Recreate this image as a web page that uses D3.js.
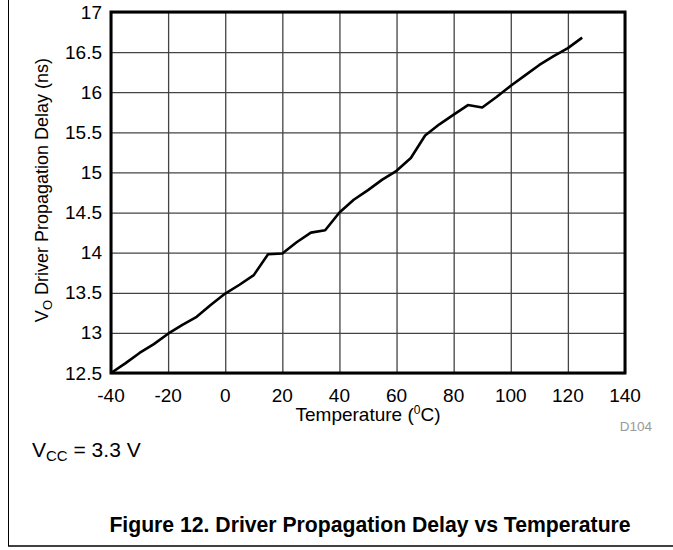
<!DOCTYPE html>
<html><head><meta charset="utf-8">
<script src="https://cdn.jsdelivr.net/npm/d3@7"></script>
<style>body{margin:0;background:#fff}svg{display:block;font-family:"Liberation Sans",Arial,sans-serif}</style>
</head><body>
<script>
const temps = [-40,-35,-30,-25,-20,-15,-10,-5,0,5,10,15,20,25,30,35,40,45,50,55,60,65,70,75,80,85,90,95,100,105,110,115,120,125];
const delays = [12.5,12.62,12.75,12.86,12.99,13.1,13.2,13.35,13.49,13.6,13.72,13.98,13.99,14.13,14.25,14.28,14.5,14.66,14.78,14.91,15.02,15.18,15.46,15.6,15.72,15.84,15.81,15.94,16.08,16.21,16.34,16.45,16.55,16.68];
const xTicks = [-40,-20,0,20,40,60,80,100,120,140];
const yTicks = [12.5,13,13.5,14,14.5,15,15.5,16,16.5,17];

const W = 673, H = 550;
const svg = d3.select("body").append("svg").attr("width", W).attr("height", H);
const L = 111, R = 625, T = 12, B = 373;
const x = d3.scaleLinear().domain([-40,140]).range([L,R]);
const y = d3.scaleLinear().domain([12.5,17]).range([B,T]);

// outer frame
svg.append("line").attr("x1",8.5).attr("x2",8.5).attr("y1",0).attr("y2",546).attr("stroke","#000").attr("stroke-width",1);
svg.append("line").attr("x1",8).attr("x2",W).attr("y1",546).attr("y2",546).attr("stroke","#000").attr("stroke-width",1.5);

// grid
const g = svg.append("g");
g.append("g").attr("transform",`translate(0,${B})`)
  .call(d3.axisBottom(x).tickValues(xTicks).tickSize(-(B-T)).tickFormat(""))
  .call(s=>s.select(".domain").remove())
  .selectAll("line").attr("stroke","#444").attr("stroke-width",1.3);
g.append("g").attr("transform",`translate(${L},0)`)
  .call(d3.axisLeft(y).tickValues(yTicks).tickSize(-(R-L)).tickFormat(""))
  .call(s=>s.select(".domain").remove())
  .selectAll("line").attr("stroke","#444").attr("stroke-width",1.3);

// tick labels
svg.append("g").selectAll("text").data(xTicks).join("text")
  .attr("x",d=>x(d)).attr("y",402).attr("text-anchor","middle")
  .attr("font-size",19).text(d=>d);
svg.append("g").selectAll("text").data(yTicks).join("text")
  .attr("x",102).attr("y",d=>y(d)+6.5).attr("text-anchor","end")
  .attr("font-size",19).text(d=>d);

// data line
const line = d3.line().x((d,i)=>x(temps[i])).y(d=>y(d));
svg.append("path").datum(delays).attr("d",line).attr("fill","none")
  .attr("stroke","#000").attr("stroke-width",2.6).attr("stroke-linejoin","round");

// plot frame
svg.append("rect").attr("x",L).attr("y",T).attr("width",R-L).attr("height",B-T)
  .attr("fill","none").attr("stroke","#000").attr("stroke-width",3);

// axis titles
const xt = svg.append("text").attr("x",368).attr("y",421).attr("text-anchor","middle").attr("font-size",19);
xt.append("tspan").text("Temperature (");
xt.append("tspan").attr("font-size",12).attr("dy",-7).text("0");
xt.append("tspan").attr("dy",7).text("C)");

const yt = svg.append("text").attr("transform","translate(48,190) rotate(-90)").attr("text-anchor","middle").attr("font-size",18);
yt.append("tspan").text("V");
yt.append("tspan").attr("font-size",13).attr("dy",3.5).text("O");
yt.append("tspan").attr("dy",-3.5).text(" Driver Propagation Delay (ns)");

svg.append("text").attr("x",652).attr("y",431).attr("text-anchor","end").attr("font-size",13.5).attr("fill","#999").text("D104");

const vc = svg.append("text").attr("x",32).attr("y",457).attr("font-size",21);
vc.append("tspan").text("V");
vc.append("tspan").attr("font-size",15).attr("dy",4).text("CC");
vc.append("tspan").attr("dy",-4).text(" = 3.3 V");

svg.append("text").attr("x",370).attr("y",532).attr("text-anchor","middle").attr("font-size",21.2).attr("font-weight","bold").text("Figure 12. Driver Propagation Delay vs Temperature");
</script>
</body></html>
